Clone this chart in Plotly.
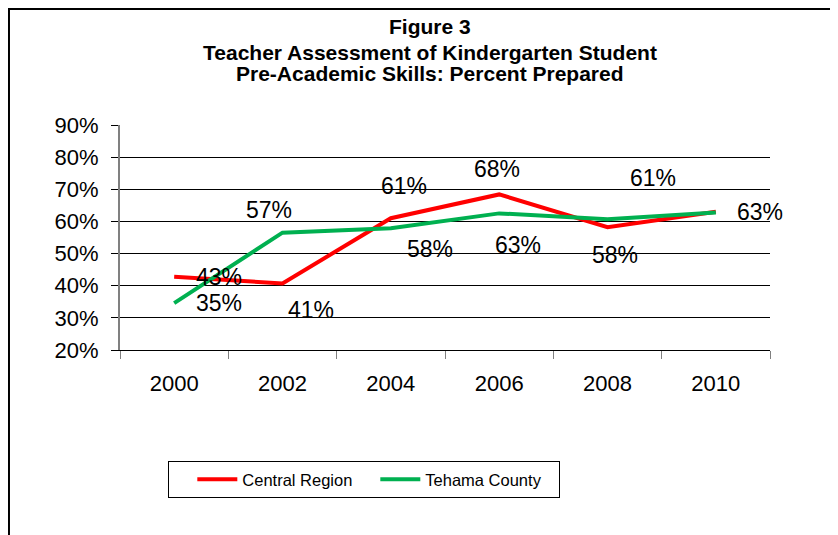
import plotly.graph_objects as go

years = ["2000", "2002", "2004", "2006", "2008", "2010"]
central_region = [42.8, 40.7, 61.0, 68.4, 58.2, 63.0]
tehama_county = [34.6, 56.5, 57.9, 62.5, 60.7, 62.8]

# label offsets (pixels) for each data label, mimicking the original layout
central_shift = [(45, 0), (28, -27), (13, 32), (-2, 25), (7, -28), (44, 0)]
tehama_shift = [(45, 0), (-14, 23), (39, -21), (19, -32), (45, 41), (44, 0)]

RED = "#FF0000"
GREEN = "#00B050"
FONT = "Liberation Sans, Arial, sans-serif"

fig = go.Figure()
fig.add_trace(go.Scatter(x=years, y=central_region, mode="lines", name="Central Region",
                         line=dict(color=RED, width=4), hoverinfo="skip"))
fig.add_trace(go.Scatter(x=years, y=tehama_county, mode="lines", name="Tehama County",
                         line=dict(color=GREEN, width=4), hoverinfo="skip"))

annotations = []
seen = set()
for vals, shifts in ((central_region, central_shift), (tehama_county, tehama_shift)):
    for i, (v, (dx, dy)) in enumerate(zip(vals, shifts)):
        label = f"{int(v + 0.5)}%"
        # the two series share the same label at the last point; draw it once
        key = (i, label, dx, dy if dy else 0)
        if key in seen:
            continue
        seen.add(key)
        annotations.append(dict(x=i, y=v, xref="x", yref="y", text=label,
                                showarrow=False, xshift=dx, yshift=dy,
                                xanchor="center", yanchor="middle",
                                font=dict(family=FONT, size=23, color="black")))

title_lines = ["Figure 3", "Teacher Assessment of Kindergarten Student",
               "Pre-Academic Skills: Percent Prepared"]
title_y = [1.44, 1.324, 1.231]
for t, y in zip(title_lines, title_y):
    annotations.append(dict(x=0.477, y=y, xref="paper", yref="paper", text=f"<b>{t}</b>",
                            showarrow=False, xanchor="center", yanchor="middle",
                            font=dict(family=FONT, size=21, color="black")))

fig.update_layout(
    width=830, height=527,
    margin=dict(l=112, r=68, t=117, b=185),
    paper_bgcolor="white", plot_bgcolor="white",
    font=dict(family=FONT, color="black"),
    showlegend=True,
    legend=dict(orientation="h", x=0.0738, y=-0.493, xanchor="left", yanchor="top",
                bordercolor="black", borderwidth=1, font=dict(size=16.5, family=FONT),
                itemwidth=40, entrywidth=128, entrywidthmode="pixels",
                title=dict(text="&nbsp;&nbsp;&nbsp;", side="left", font=dict(size=16))),
    annotations=annotations,
    shapes=[dict(type="rect", xref="paper", yref="paper", x0=-0.1708, x1=1.12,
                 y0=-0.87, y1=1.5156, line=dict(color="black", width=2))],
)
fig.update_xaxes(type="category", range=[-0.5, 5.5], showgrid=False, showline=True,
                 linecolor="black", linewidth=1, ticks="outside", tickson="boundaries",
                 ticklen=8, tickcolor="#808080", tickwidth=1,
                 tickfont=dict(size=22, family=FONT), ticklabelstandoff=14)
fig.update_yaxes(range=[20, 90], dtick=10, ticksuffix="%", showgrid=True,
                 gridcolor="black", gridwidth=1, showline=True, linecolor="#808080",
                 linewidth=2, ticks="outside", ticklen=7, tickcolor="black",
                 tickfont=dict(size=22, family=FONT), ticklabelstandoff=8,
                 zeroline=False)

fig.write_html("out.html")
